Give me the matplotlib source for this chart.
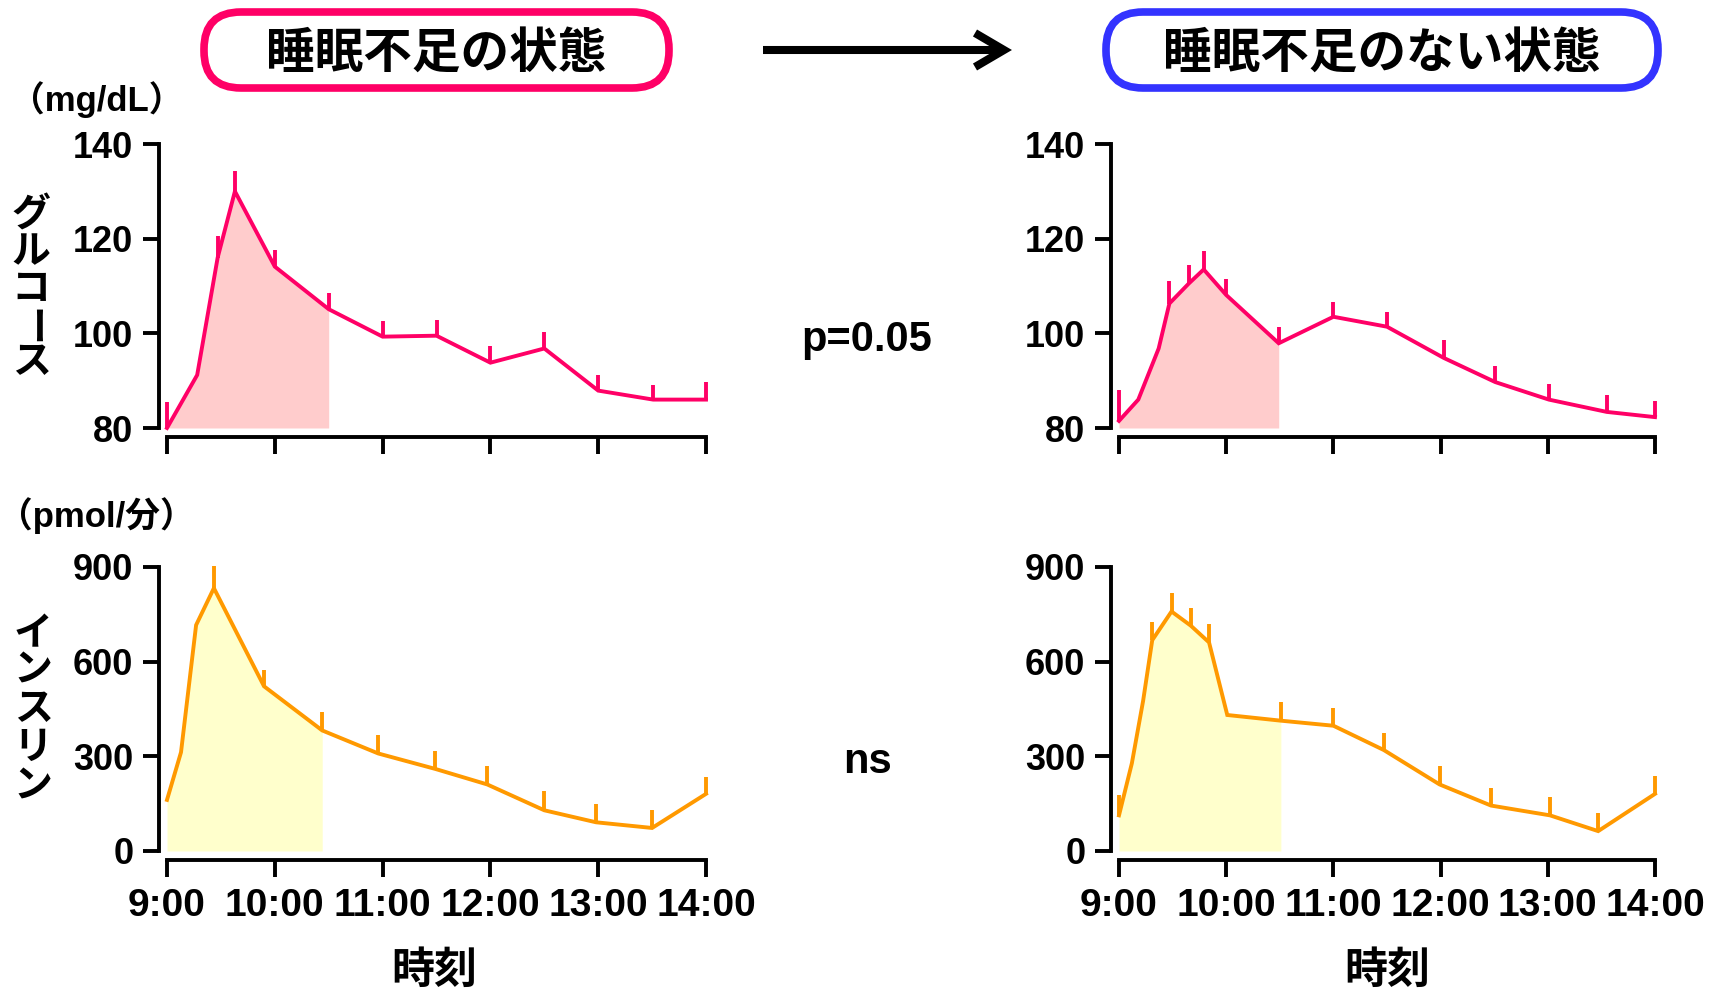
import matplotlib
matplotlib.use('Agg')
import matplotlib.pyplot as plt
from matplotlib.patches import FancyBboxPatch
from matplotlib.lines import Line2D
from matplotlib.transforms import IdentityTransform
import numpy as np

plt.rcParams['font.family'] = ['Liberation Sans', 'Noto Sans CJK JP']
plt.rcParams['font.weight'] = 'bold'

# ---------------- data ----------------
time_labels = ['9:00', '10:00', '11:00', '12:00', '13:00', '14:00']
glu_ticks = [80, 100, 120, 140]
ins_ticks = [0, 300, 600, 900]

# hours after 9:00
glu_sd_t = [0, 0.28, 0.47, 0.63, 1.0, 1.5, 2.0, 2.5, 3.0, 3.5, 4.0, 4.51, 5.0]
glu_sd_v = [80.0, 91.2, 116.0, 130.0, 114.1, 105.1, 99.3, 99.5, 93.8, 96.8, 87.9, 86.0, 86.0]
glu_sd_e = [5.5, 0, 4.6, 4.2, 3.5, 3.4, 3.4, 3.4, 3.5, 3.4, 3.3, 3.1, 3.7]

glu_ok_t = [0, 0.18, 0.37, 0.47, 0.65, 0.79, 1.0, 1.49, 2.0, 2.5, 3.03, 3.51, 4.01, 4.55, 5.0]
glu_ok_v = [81.5, 86.0, 96.8, 106.3, 110.5, 113.5, 108.1, 97.9, 103.5, 101.4, 94.8, 89.7, 86.0, 83.4, 82.3]
glu_ok_e = [6.6, 0, 0, 4.7, 4.0, 3.8, 3.3, 3.5, 3.2, 3.2, 3.7, 3.5, 3.2, 3.6, 3.5]

ins_sd_t = [0, 0.13, 0.27, 0.435, 0.9, 1.44, 1.96, 2.49, 2.97, 3.5, 3.98, 4.5, 5.0]
ins_sd_v = [162, 313, 716, 833, 522, 382, 309, 260, 211, 129, 91, 73, 181]
ins_sd_e = [0, 0, 0, 69, 52, 60, 59, 56, 59, 62, 57, 58, 53]

ins_ok_t = [0, 0.12, 0.225, 0.31, 0.49, 0.67, 0.84, 1.01, 1.51, 2.0, 2.47, 2.99, 3.47, 4.02, 4.47, 5.0]
ins_ok_v = [113, 278, 476, 668, 759, 714, 661, 431, 413, 397, 320, 211, 144, 113, 63, 181]
ins_ok_e = [63, 0, 0, 58, 58, 57, 58, 0, 60, 56, 54, 59, 55, 58, 58, 56]

# index of last point of the shaded (AUC) region
shade_glu_sd, shade_glu_ok, shade_ins_sd, shade_ins_ok = 5, 7, 5, 8

title_sd = '睡眠不足の状態'
title_ok = '睡眠不足のない状態'
p_glu = 'p=0.05'
p_ins = 'ns'
xlabel = '時刻'
glu_unit = '（mg/dL）'
ins_unit = '（pmol/分）'
glu_name = 'グルコース'
ins_name = 'インスリン'

# ---------------- style ----------------
PINK_LINE = '#FF0066'
PINK_FILL = '#FFCCCC'
ORANGE_LINE = '#FF9900'
YELLOW_FILL = '#FFFFCC'
RED_BOX = '#FF0066'
BLUE_BOX = '#3333FF'
LW = 2.8

W, H = 1719, 991
fig = plt.figure(figsize=(W / 100, H / 100), dpi=100)
ID = IdentityTransform()


def add_panel(xl, xr, yt, yb, t, v, e, shade_idx, line_c, fill_c, ylim, yticks, show_xlabels):
    ax = fig.add_axes([xl / W, 1 - yb / H, (xr - xl) / W, (yb - yt) / H])
    ax.set_xlim(0, 5)
    ax.set_ylim(*ylim)
    for s in ['top', 'right']:
        ax.spines[s].set_visible(False)
    ax.spines['left'].set_position(('outward', 5.8))
    ax.spines['bottom'].set_position(('outward', 6.5))
    ax.spines['left'].set_bounds(ylim[0], ylim[1])
    ax.spines['bottom'].set_bounds(0, 5)
    for s in ['left', 'bottom']:
        ax.spines[s].set_linewidth(LW)
        ax.spines[s].set_capstyle('projecting')
    ax.set_yticks(yticks)
    ax.set_yticklabels([str(y) for y in yticks], fontsize=26, fontweight='bold')
    ax.set_xticks(range(6))
    if show_xlabels:
        ax.set_xticklabels(time_labels, fontsize=28, fontweight='bold')
    else:
        ax.set_xticklabels([])
    ax.tick_params(axis='y', length=11.5, width=LW, pad=7)
    ax.tick_params(axis='x', length=12, width=LW, pad=8)
    ax.patch.set_visible(False)

    t = np.asarray(t, float)
    v = np.asarray(v, float)
    e = np.asarray(e, float)
    ax.fill_between(t[:shade_idx + 1], ylim[0], v[:shade_idx + 1], color=fill_c, lw=0, zorder=1)
    ax.plot(t, v, color=line_c, lw=LW, clip_on=False, zorder=3, solid_joinstyle='miter')
    m = e > 0
    ax.vlines(t[m], v[m], v[m] + e[m], color=line_c, lw=LW, clip_on=False, zorder=3)
    return ax


LX0, LX1 = 167, 706
RX0, RX1 = 1119, 1655
TY0, TY1 = 144, 428
BY0, BY1 = 567, 851

add_panel(LX0, LX1, TY0, TY1, glu_sd_t, glu_sd_v, glu_sd_e, shade_glu_sd,
          PINK_LINE, PINK_FILL, (80, 140), glu_ticks, False)
add_panel(RX0, RX1, TY0, TY1, glu_ok_t, glu_ok_v, glu_ok_e, shade_glu_ok,
          PINK_LINE, PINK_FILL, (80, 140), glu_ticks, False)
add_panel(LX0, LX1, BY0, BY1, ins_sd_t, ins_sd_v, ins_sd_e, shade_ins_sd,
          ORANGE_LINE, YELLOW_FILL, (0, 900), ins_ticks, True)
add_panel(RX0, RX1, BY0, BY1, ins_ok_t, ins_ok_v, ins_ok_e, shade_ins_ok,
          ORANGE_LINE, YELLOW_FILL, (0, 900), ins_ticks, True)


def ptext(x, y, s, size, **kw):
    fig.text(x, H - y, s, transform=ID, fontsize=size, fontweight='bold',
             ha=kw.pop('ha', 'center'), va=kw.pop('va', 'center'), **kw)


# title boxes
for (x0, x1, col, txt) in [(204, 669, RED_BOX, title_sd), (1106, 1658, BLUE_BOX, title_ok)]:
    box = FancyBboxPatch((x0, H - 88), x1 - x0, 76,
                         boxstyle='round,pad=0,rounding_size=37',
                         transform=ID, facecolor='white', edgecolor=col, lw=5.5)
    fig.patches.append(box)
    ptext((x0 + x1) / 2, 55, txt, 35)

# arrow
fig.lines.append(Line2D([763, 1000], [H - 50, H - 50], transform=ID, color='black',
                        lw=5.8, solid_capstyle='butt'))
fig.lines.append(Line2D([975, 1004, 975], [H - 33, H - 50, H - 67], transform=ID,
                        color='black', lw=5.8, solid_joinstyle='miter', solid_capstyle='butt'))

# p-values
ptext(867, 340, p_glu, 30)
ptext(867, 762, p_ins, 30)

# x labels
ptext(434, 972, xlabel, 31)
ptext(1387, 972, xlabel, 31)

# unit labels
ptext(97, 100, glu_unit, 25)
ptext(96, 516, ins_unit, 25)

# vertical y labels
for ch, y in zip(glu_name, [216, 253, 290, 327, 363]):
    ptext(31, y, ch, 28, rotation=(-90 if ch == 'ー' else 0))
for ch, y in zip(ins_name, [635, 672, 710, 749, 788]):
    ptext(33, y, ch, 28)

fig.savefig('out.png', dpi=100, facecolor='white')
